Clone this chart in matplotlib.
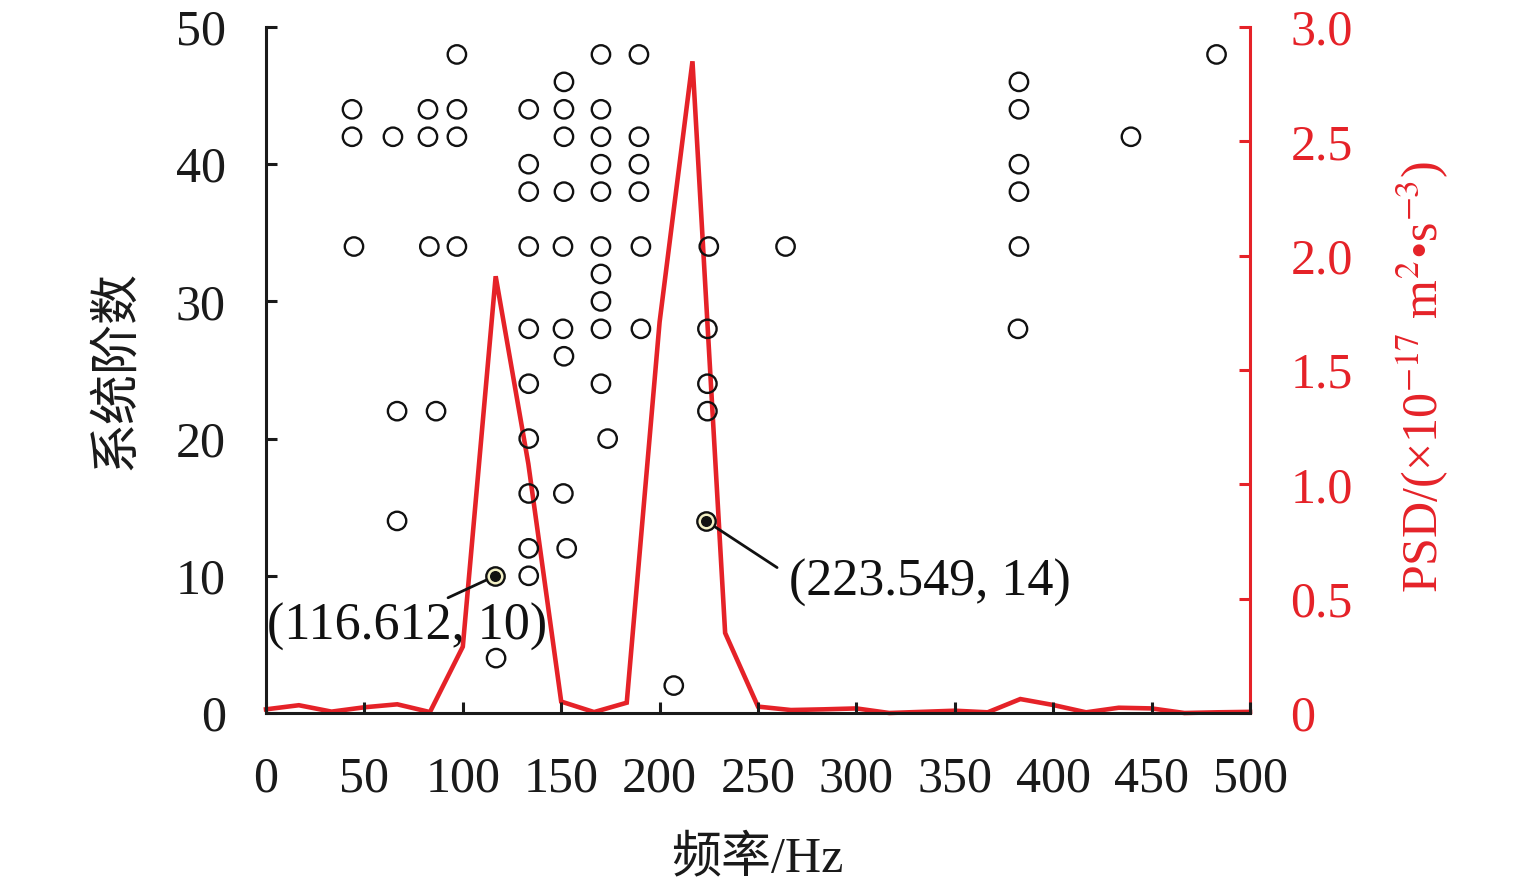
import matplotlib
matplotlib.use("Agg")
import matplotlib.pyplot as plt

plt.rcParams['font.family'] = ['Liberation Serif', 'Noto Sans CJK SC', 'DejaVu Sans']
plt.rcParams['mathtext.fontset'] = 'stix'
plt.rcParams['axes.unicode_minus'] = True

# ---- data ----
stable_freq = [43.7, 43.7, 44.7,
               64.5, 66.6, 66.6,
               82.3, 82.3, 83.0,
               86.4,
               97.0, 97.0, 97.0, 97.0,
               116.9,
               133.5, 133.5, 133.5, 133.5, 133.5, 133.5, 133.5, 133.5, 133.5, 133.5,
               151.4, 151.4, 151.4, 151.4, 150.9, 150.9, 151.4, 151.1, 152.8,
               170.2, 170.2, 170.2, 170.2, 170.2, 170.2, 170.2, 170.2, 170.2, 170.2,
               173.6,
               189.5, 189.5, 189.5, 189.5, 190.5, 190.5,
               207.2,
               224.3, 224.3, 224.3, 225.0,
               264.0,
               382.6, 382.6, 382.6, 382.6, 382.6, 382.1,
               439.5,
               483.0]
stable_order = [44, 42, 34,
                42, 22, 14,
                44, 42, 34,
                22,
                48, 44, 42, 34,
                4,
                44, 40, 38, 34, 28, 24, 20, 16, 12, 10,
                46, 44, 42, 38, 34, 28, 26, 16, 12,
                48, 44, 42, 40, 38, 34, 32, 30, 28, 24,
                20,
                48, 42, 40, 38, 34, 28,
                2,
                22, 24, 28, 34,
                34,
                46, 44, 40, 38, 34, 28,
                42,
                48]

marked_freq = [116.612, 223.549]
marked_order = [10, 14]
marked_labels = ['(116.612, 10)', '(223.549, 14)']

psd_freq = [0, 16.7, 33.3, 50, 66.7, 83.3, 100, 116.7, 133.3, 150, 166.7,
            183.3, 200, 216.7, 233.3, 250, 266.7, 283.3, 300, 316.7, 333.3,
            350, 366.7, 383.3, 400, 416.7, 433.3, 450, 466.7, 483.3, 500]
psd_value = [0.016, 0.034, 0.006, 0.025, 0.038, 0.004, 0.29, 1.91, 1.09, 0.05, 0.004,
             0.045, 1.71, 2.85, 0.35, 0.028, 0.013, 0.016, 0.02, 0.0, 0.005,
             0.01, 0.003, 0.061, 0.035, 0.003, 0.023, 0.02, 0.0, 0.003, 0.005]

x_ticks = [0, 50, 100, 150, 200, 250, 300, 350, 400, 450, 500]
y_ticks = [0, 10, 20, 30, 40, 50]
psd_ticks = [0, 0.5, 1.0, 1.5, 2.0, 2.5, 3.0]
psd_ticklabels = ['0', '0.5', '1.0', '1.5', '2.0', '2.5', '3.0']

RED = '#e52228'
FS = 36

fig = plt.figure(figsize=(15.35, 8.9), dpi=100)
ax = fig.add_axes([266/1535, 1-713/890, (1250-266)/1535, (713-27)/890])
ax2 = ax.twinx()
ax.set_zorder(ax2.get_zorder() + 1)
ax.patch.set_visible(False)

# PSD line
ax2.plot(psd_freq, psd_value, color=RED, lw=3.3, solid_joinstyle='miter', clip_on=False)
ax2.set_ylim(0, 3.0)
ax2.set_yticks(psd_ticks)
ax2.set_yticklabels(psd_ticklabels)

# stabilization points
ax.scatter(stable_freq, stable_order, s=175, facecolors='none', edgecolors='#111111',
           linewidths=1.7, zorder=3)
ax.scatter(marked_freq, marked_order, s=175, facecolors='#f4f1c6', edgecolors='#111111',
           linewidths=1.7, zorder=4)
ax.scatter(marked_freq, marked_order, s=48, color='#111111', zorder=5)

# annotations
ax.annotate('', xy=(marked_freq[0], marked_order[0]), xytext=(92.5, 8.4),
            arrowprops=dict(arrowstyle='-', lw=2, color='#111111', shrinkA=0, shrinkB=0), zorder=2)
ax.text(0.5, 6.3, marked_labels[0], fontsize=37.5, ha='left', va='center', color='#111111')
ax.annotate('', xy=(marked_freq[1], marked_order[1]), xytext=(259.7, 10.6),
            arrowprops=dict(arrowstyle='-', lw=2, color='#111111', shrinkA=0, shrinkB=0), zorder=2)
ax.text(265.5, 9.5, marked_labels[1], fontsize=37.5, ha='left', va='center', color='#111111')

ax.set_xlim(0, 500)
ax.set_ylim(0, 50)
ax.set_xticks(x_ticks)
ax.set_yticks(y_ticks)

# spines
for s in ['top', 'right']:
    ax.spines[s].set_visible(False)
for s in ['left', 'bottom']:
    ax.spines[s].set_linewidth(2.2)
    ax.spines[s].set_color('#1a1a1a')
for s in ['top', 'left', 'bottom']:
    ax2.spines[s].set_visible(False)
ax2.spines['right'].set_color(RED)
ax2.spines['right'].set_linewidth(2.2)

ax.tick_params(axis='both', direction='in', length=8, width=2.2, color='#1a1a1a',
               labelsize=FS, labelcolor='#1a1a1a')
ax.tick_params(axis='y', pad=29)
ax.tick_params(axis='x', pad=31)
ax2.tick_params(axis='y', direction='in', length=8, width=2.2, color=RED,
                labelsize=FS, labelcolor=RED, pad=29)

ax.set_xlabel('频率/Hz', fontsize=FS, color='#1a1a1a')
ax.xaxis.set_label_coords(0.499, -0.178)
ax.set_ylabel('系统阶数', fontsize=FS, color='#1a1a1a')
ax.yaxis.set_label_coords(-0.128, 0.5)
ax2.set_ylabel(r'PSD/(×10$^{-17}$ m$^{2}$•s$^{-3}$)', fontsize=FS, color=RED, rotation=90)
ax2.yaxis.set_label_coords(1.1474, 0.49)

fig.savefig('out.png', dpi=100)
